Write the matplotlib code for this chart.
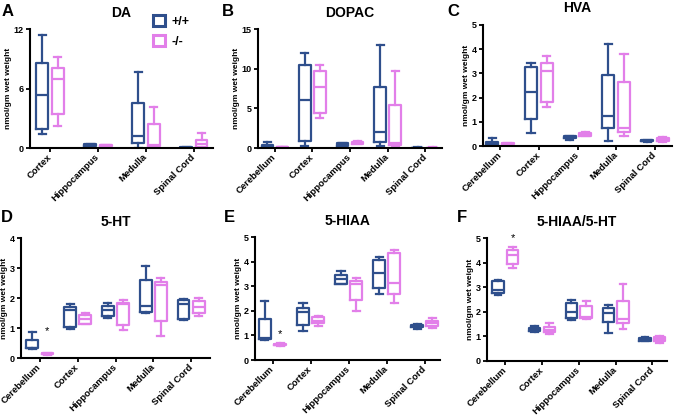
import matplotlib
matplotlib.use("Agg")
import matplotlib.pyplot as plt
from matplotlib.patches import Patch

plt.rcParams['font.family'] = ['Liberation Sans', 'DejaVu Sans']
plt.rcParams['font.weight'] = 'bold'

BLUE = '#2f4f8c'
PINK = '#e27fe9'

groups = ['+/+', '-/-']
ylabel = 'nmol/gm wet weight'

# ---- data: five-number summaries [whislo, q1, med, q3, whishi] ----
da_regions = ['Cortex', 'Hippocampus', 'Medulla', 'Spinal Cord']
da_wt = [[1.4, 1.9, 5.3, 8.6, 11.4], [0.2, 0.25, 0.3, 0.4, 0.45],
         [0.05, 0.5, 1.2, 4.5, 7.7], [0.03, 0.04, 0.05, 0.06, 0.07]]
da_ko = [[2.2, 3.4, 7.0, 8.1, 9.2], [0.2, 0.24, 0.28, 0.32, 0.35],
         [0.1, 0.2, 0.3, 2.4, 4.1], [0.05, 0.1, 0.4, 0.8, 1.5]]

regions = ['Cerebellum', 'Cortex', 'Hippocampus', 'Medulla', 'Spinal Cord']

dopac_wt = [[0.05, 0.1, 0.2, 0.4, 0.8], [0.2, 0.9, 6.0, 10.4, 12.0],
            [0.2, 0.3, 0.5, 0.6, 0.65], [0.2, 0.7, 2.0, 7.7, 13.0],
            [0.03, 0.04, 0.05, 0.06, 0.07]]
dopac_ko = [[0.05, 0.07, 0.1, 0.12, 0.14], [3.8, 4.4, 7.7, 9.7, 10.5],
            [0.5, 0.55, 0.65, 0.75, 0.85], [0.3, 0.4, 0.6, 5.4, 9.7],
            [0.03, 0.04, 0.05, 0.06, 0.07]]

hva_wt = [[0.02, 0.05, 0.12, 0.18, 0.32], [0.55, 1.12, 2.25, 3.25, 3.45],
          [0.25, 0.33, 0.37, 0.42, 0.43], [0.22, 0.75, 1.22, 2.95, 4.22],
          [0.18, 0.2, 0.22, 0.24, 0.25]]
hva_ko = [[0.08, 0.09, 0.1, 0.12, 0.13], [1.63, 1.83, 3.1, 3.45, 3.72],
          [0.4, 0.43, 0.5, 0.55, 0.58], [0.4, 0.58, 0.75, 2.65, 3.8],
          [0.18, 0.22, 0.28, 0.35, 0.38]]

ht_wt = [[0.3, 0.33, 0.35, 0.6, 0.88], [0.97, 1.05, 1.6, 1.7, 1.8],
         [1.33, 1.4, 1.6, 1.75, 1.85], [1.5, 1.52, 1.75, 2.6, 3.08],
         [1.27, 1.3, 1.8, 1.92, 1.98]]
ht_ko = [[0.1, 0.12, 0.14, 0.16, 0.18], [1.12, 1.15, 1.3, 1.45, 1.5],
         [0.95, 1.1, 1.8, 1.82, 1.95], [0.75, 1.25, 2.45, 2.55, 2.67],
         [1.4, 1.5, 1.7, 1.9, 2.0]]

hiaa_wt = [[0.8, 0.85, 0.9, 1.65, 2.38], [1.18, 1.42, 1.95, 2.12, 2.3],
           [3.08, 3.1, 3.3, 3.45, 3.62], [2.68, 2.92, 3.55, 4.07, 4.17],
           [1.27, 1.33, 1.4, 1.43, 1.45]]
hiaa_ko = [[0.55, 0.6, 0.63, 0.66, 0.68], [1.4, 1.52, 1.6, 1.75, 1.78],
           [2.0, 2.45, 3.1, 3.22, 3.35], [2.33, 2.68, 3.15, 4.35, 4.48],
           [1.3, 1.4, 1.5, 1.6, 1.72]]

ratio_wt = [[2.68, 2.78, 2.9, 3.25, 3.3], [1.17, 1.2, 1.28, 1.35, 1.42],
            [1.65, 1.75, 2.0, 2.35, 2.5], [1.15, 1.6, 1.95, 2.15, 2.28],
            [0.8, 0.82, 0.87, 0.95, 0.98]]
ratio_ko = [[3.78, 3.95, 4.3, 4.5, 4.62], [1.1, 1.18, 1.28, 1.38, 1.55],
            [1.72, 1.75, 1.8, 2.25, 2.45], [1.3, 1.55, 1.72, 2.42, 3.12],
            [0.72, 0.82, 0.9, 0.98, 1.0]]

panels = [
    dict(letter='A', title='DA', cats=da_regions, wt=da_wt, ko=da_ko,
         ymax=12, yticks=[0, 6, 12], rect=[30, 29, 213, 148], letter_xy=(2, 4),
         xlim=(-0.42, 3.4), off=0.16, w=0.25, stars=[]),
    dict(letter='B', title='DOPAC', cats=regions, wt=dopac_wt, ko=dopac_ko,
         ymax=15, yticks=[0, 5, 10, 15], rect=[258, 29, 442, 148], letter_xy=(222, 4),
         xlim=(-0.45, 4.45), off=0.2, w=0.31, stars=[]),
    dict(letter='C', title='HVA', cats=regions, wt=hva_wt, ko=hva_ko,
         ymax=5, yticks=[0, 1, 2, 3, 4, 5], rect=[483, 25, 672, 146], letter_xy=(447, 4),
         xlim=(-0.44, 4.44), off=0.2, w=0.31, stars=[]),
    dict(letter='D', title='5-HT', cats=regions, wt=ht_wt, ko=ht_ko,
         ymax=4, yticks=[0, 1, 2, 3, 4], rect=[21, 238, 210, 358], letter_xy=(1, 210),
         xlim=(-0.5, 4.5), off=0.2, w=0.31, stars=[(0, 0.72)]),
    dict(letter='E', title='5-HIAA', cats=regions, wt=hiaa_wt, ko=hiaa_ko,
         ymax=5, yticks=[0, 1, 2, 3, 4, 5], rect=[255, 237, 440, 360], letter_xy=(224, 210),
         xlim=(-0.46, 4.4), off=0.2, w=0.31, stars=[(0, 0.85)]),
    dict(letter='F', title='5-HIAA/5-HT', cats=regions, wt=ratio_wt, ko=ratio_ko,
         ymax=5, yticks=[0, 1, 2, 3, 4, 5], rect=[487, 238, 667, 361], letter_xy=(457, 210),
         xlim=(-0.5, 4.4), off=0.2, w=0.31, stars=[(0, 4.78)]),
]

W, H = 675, 418
fig = plt.figure(figsize=(W / 100, H / 100), dpi=100)


def stats(vals):
    lo, q1, med, q3, hi = vals
    return dict(whislo=lo, q1=q1, med=med, q3=q3, whishi=hi, fliers=[])


for p in panels:
    x0, y0, x1, y1 = p['rect']
    ax = fig.add_axes([x0 / W, 1 - y1 / H, (x1 - x0) / W, (y1 - y0) / H])
    n = len(p['cats'])
    for data, sign, col in [(p['wt'], -1, BLUE), (p['ko'], 1, PINK)]:
        pos = [i + sign * p['off'] for i in range(n)]
        lw = 1.6
        ax.bxp([stats(v) for v in data], positions=pos, widths=p['w'],
               showfliers=False, patch_artist=False, manage_ticks=False,
               boxprops=dict(color=col, linewidth=lw),
               whiskerprops=dict(color=col, linewidth=lw),
               capprops=dict(color=col, linewidth=lw),
               medianprops=dict(color=col, linewidth=lw),
               capwidths=p['w'] * 0.6)
    for (ci, yv) in p['stars']:
        ax.text(ci + p['off'], yv, '*', ha='center', va='bottom', fontsize=8,
                fontweight='normal', color='black')
    ax.set_xlim(*p['xlim'])
    ax.set_ylim(0, p['ymax'])
    ax.set_yticks(p['yticks'])
    ax.set_xticks(range(n))
    ax.set_xticklabels(p['cats'], rotation=45, ha='right', va='center',
                       rotation_mode='anchor', fontsize=6.8, fontweight='bold')
    ax.tick_params(axis='y', labelsize=6.5, width=1.3, length=3, pad=1.5)
    ax.tick_params(axis='x', width=1.3, length=3, pad=2.5)
    for lab in ax.get_yticklabels():
        lab.set_fontweight('bold')
    for s in ['top', 'right']:
        ax.spines[s].set_visible(False)
    for s in ['left', 'bottom']:
        ax.spines[s].set_linewidth(1.5)
    ax.set_ylabel(ylabel, fontsize=6, fontweight='bold', labelpad=1.5)
    ax.set_title(p['title'], fontsize=10, fontweight='bold', pad=9)
    lx, ly = p['letter_xy']
    fig.text(lx / W, 1 - ly / H, p['letter'], fontsize=12, fontweight='bold',
             ha='left', va='top')

handles = [Patch(facecolor='white', edgecolor=BLUE, linewidth=2.2),
           Patch(facecolor='white', edgecolor=PINK, linewidth=2.2)]
fig.legend(handles, groups, loc='upper left', bbox_to_anchor=(142 / W, 1 - 4 / H),
           frameon=False, handlelength=0.9, handleheight=0.9, handletextpad=0.6,
           labelspacing=0.6, prop=dict(size=9, weight='bold'))

fig.savefig('out.png', dpi=100)
